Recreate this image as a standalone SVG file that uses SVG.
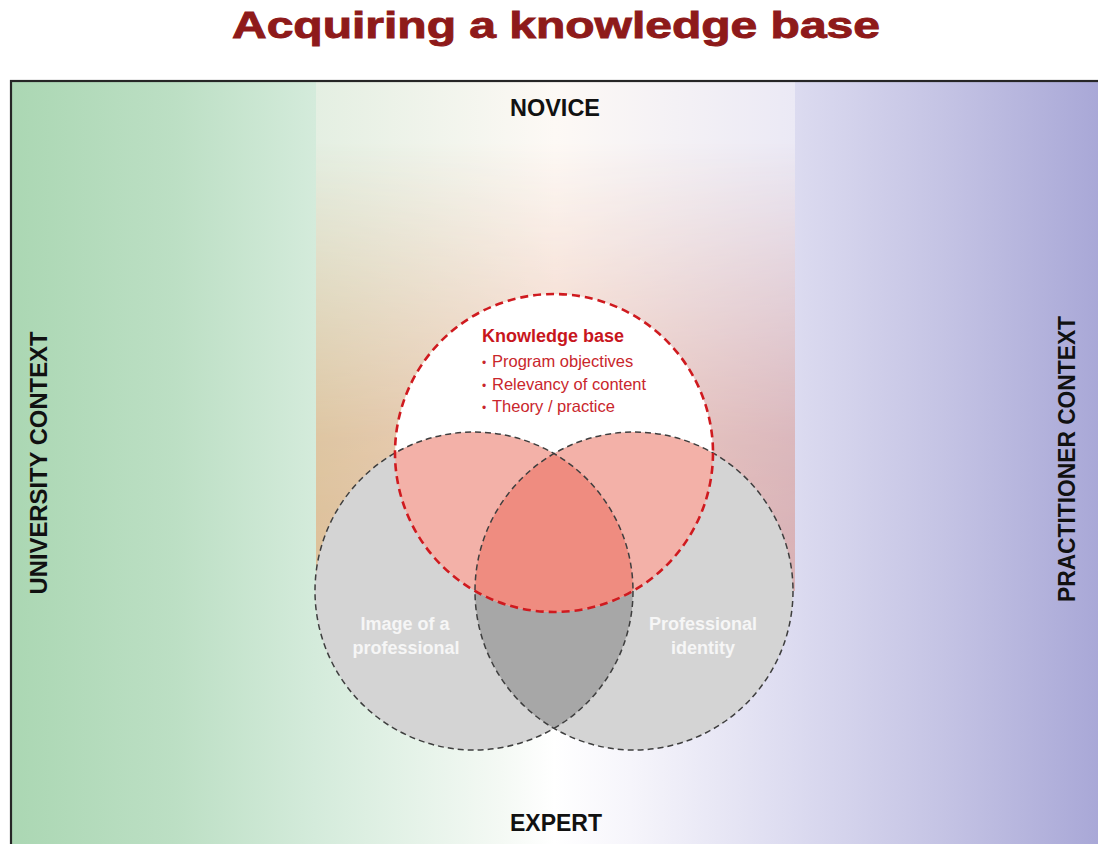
<svg xmlns="http://www.w3.org/2000/svg" width="1098" height="844" viewBox="0 0 1098 844">
  <style>
    .sans { font-family: "Liberation Sans", Arial, Helvetica, sans-serif; }
    .axis { font-weight: bold; fill: #111; }
    .kb { fill: #c8161d; }
    .kbItem { fill: #c9262c; font-size: 16.5px; }
    .ring { fill: #f6f6f6; font-weight: bold; font-size: 18px; }
    .grayEdge { fill: none; stroke: #3e3e3e; stroke-width: 1.5; stroke-dasharray: 6 4; }
    .redEdge { fill: none; stroke: #cf1a1f; stroke-width: 2.6; stroke-dasharray: 8 5; }
  </style>
  <defs>
    <!-- university (green) to practitioner (purple) field -->
    <linearGradient id="fieldGrad" x1="11" y1="0" x2="1098" y2="0" gradientUnits="userSpaceOnUse">
      <stop offset="0" stop-color="#abd7b3"/>
      <stop offset="0.15" stop-color="#bcdfc4"/>
      <stop offset="0.28" stop-color="#d4ebdb"/>
      <stop offset="0.45" stop-color="#f4f9f4"/>
      <stop offset="0.5" stop-color="#ffffff"/>
      <stop offset="0.57" stop-color="#f6f5fb"/>
      <stop offset="0.72" stop-color="#dcdbf0"/>
      <stop offset="0.86" stop-color="#c4c3e4"/>
      <stop offset="1" stop-color="#a9a8d7"/>
    </linearGradient>
    <!-- central band, upper tint -->
    <linearGradient id="bandTop" x1="316" y1="0" x2="795" y2="0" gradientUnits="userSpaceOnUse">
      <stop offset="0" stop-color="#e4efe2"/>
      <stop offset="0.5" stop-color="#fdf9f5"/>
      <stop offset="1" stop-color="#ebe9f5"/>
    </linearGradient>
    <!-- central band, lower warm tint -->
    <linearGradient id="bandLow" x1="316" y1="0" x2="795" y2="0" gradientUnits="userSpaceOnUse">
      <stop offset="0" stop-color="#ddbf98"/>
      <stop offset="0.5" stop-color="#efc8b8"/>
      <stop offset="1" stop-color="#d8b0b4"/>
    </linearGradient>
    <linearGradient id="fadeDown" x1="0" y1="81" x2="0" y2="591" gradientUnits="userSpaceOnUse">
      <stop offset="0" stop-color="#000"/>
      <stop offset="0.12" stop-color="#000"/>
      <stop offset="0.7" stop-color="#ddd"/>
      <stop offset="1" stop-color="#fff"/>
    </linearGradient>
    <mask id="bandMask" maskUnits="userSpaceOnUse" x="316" y="81" width="479" height="510">
      <rect x="316" y="81" width="479" height="510" fill="url(#fadeDown)"/>
    </mask>
    <clipPath id="clipLeft"><circle cx="474" cy="591" r="159"/></clipPath>
    <clipPath id="clipRight"><circle cx="634" cy="591" r="159"/></clipPath>
    <clipPath id="clipRed"><circle cx="554" cy="453" r="159"/></clipPath>
  </defs>

  <!-- title -->
  <text class="sans" x="232" y="38" font-size="36" font-weight="bold" fill="#8e1a1a" stroke="#8e1a1a" stroke-width="0.9" textLength="648" lengthAdjust="spacingAndGlyphs">Acquiring a knowledge base</text>

  <!-- framed field -->
  <g id="field">
    <rect x="11" y="81" width="1100" height="800" fill="url(#fieldGrad)"/>
    <rect x="316" y="81" width="479" height="510" fill="url(#bandTop)"/>
    <rect x="316" y="81" width="479" height="510" fill="url(#bandLow)" mask="url(#bandMask)"/>
    <rect x="11" y="81" width="1100" height="800" fill="none" stroke="#262626" stroke-width="2.2"/>
  </g>

  <!-- axis labels -->
  <g id="axis-labels" class="sans axis">
    <text x="555" y="116" font-size="23" text-anchor="middle" textLength="90" lengthAdjust="spacingAndGlyphs">NOVICE</text>
    <text x="556" y="831" font-size="23" text-anchor="middle" textLength="92" lengthAdjust="spacingAndGlyphs">EXPERT</text>
    <text transform="translate(47,463) rotate(-90)" font-size="24" text-anchor="middle" textLength="263" lengthAdjust="spacingAndGlyphs">UNIVERSITY CONTEXT</text>
    <text transform="translate(1075,459) rotate(-90)" font-size="24" text-anchor="middle" textLength="286" lengthAdjust="spacingAndGlyphs">PRACTITIONER CONTEXT</text>
  </g>

  <!-- venn fills -->
  <g id="venn-fills">
    <circle cx="554" cy="453" r="159" fill="#ffffff"/>
    <circle cx="474" cy="591" r="159" fill="#d4d4d4"/>
    <circle cx="634" cy="591" r="159" fill="#d4d4d4"/>
    <circle cx="634" cy="591" r="159" fill="#a7a7a7" clip-path="url(#clipLeft)"/>
    <g clip-path="url(#clipRed)">
      <circle cx="474" cy="591" r="159" fill="#f3b1a8"/>
      <circle cx="634" cy="591" r="159" fill="#f3b1a8"/>
      <circle cx="634" cy="591" r="159" fill="#ef8c80" clip-path="url(#clipLeft)"/>
    </g>
  </g>

  <g id="node-image">
    <circle class="grayEdge" cx="474" cy="591" r="159"/>
    <text class="sans ring" x="405" y="630" text-anchor="middle">Image of a</text>
    <text class="sans ring" x="406" y="654" text-anchor="middle">professional</text>
  </g>

  <g id="node-identity">
    <circle class="grayEdge" cx="634" cy="591" r="159"/>
    <text class="sans ring" x="703" y="630" text-anchor="middle">Professional</text>
    <text class="sans ring" x="703" y="654" text-anchor="middle">identity</text>
  </g>

  <g id="node-knowledge">
    <circle class="redEdge" cx="554" cy="453" r="159"/>
    <text class="sans kb" x="482" y="342" font-size="18" font-weight="bold">Knowledge base</text>
    <text class="sans kbItem" y="367"><tspan x="482" font-size="12">•</tspan><tspan x="492">Program objectives</tspan></text>
    <text class="sans kbItem" y="390"><tspan x="482" font-size="12">•</tspan><tspan x="492">Relevancy of content</tspan></text>
    <text class="sans kbItem" y="412"><tspan x="482" font-size="12">•</tspan><tspan x="492">Theory / practice</tspan></text>
  </g>
</svg>
